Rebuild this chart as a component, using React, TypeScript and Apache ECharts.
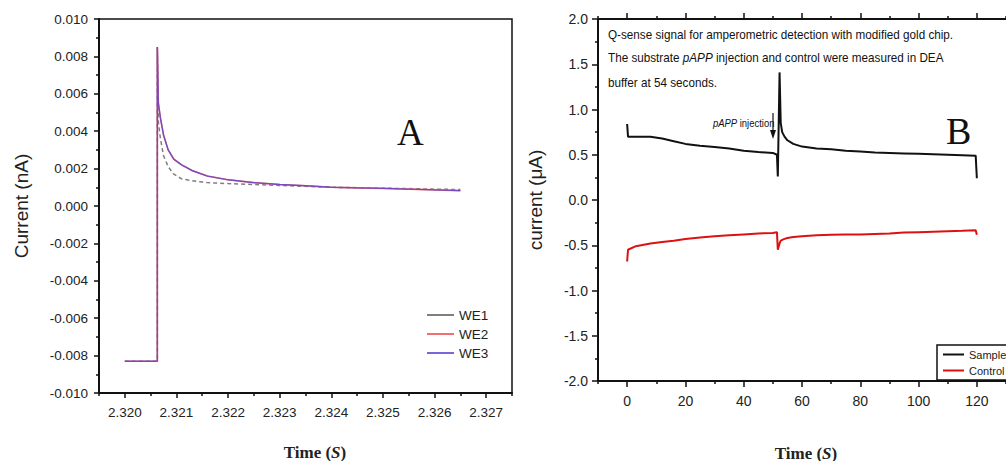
import React, { useEffect, useRef } from 'react';
import * as echarts from 'echarts';

// ---------- Panel A data ----------
const A_TIME = [2.32, 2.32063, 2.32063, 2.32065, 2.32069, 2.32075, 2.32084, 2.32095, 2.3211, 2.3213, 2.3216, 2.322, 2.3225, 2.323, 2.3235, 2.324, 2.3245, 2.325, 2.3255, 2.326, 2.3265];
const A_WE1 = [-0.0083, -0.0083, 0.0085, 0.0045, 0.0036, 0.0027, 0.0021, 0.0017, 0.00145, 0.00135, 0.00125, 0.0012, 0.00115, 0.0011, 0.00105, 0.001, 0.00098, 0.00095, 0.00093, 0.0009, 0.00088];
const A_WE2 = [-0.0083, -0.0083, 0.0085, 0.0055, 0.0047, 0.0038, 0.003, 0.0025, 0.0022, 0.0019, 0.0016, 0.0014, 0.00125, 0.00115, 0.00108, 0.001, 0.00097, 0.00094, 0.0009, 0.00086, 0.00082];
const A_WE3 = [-0.0083, -0.0083, 0.0085, 0.0055, 0.0047, 0.0038, 0.003, 0.0025, 0.0022, 0.0019, 0.0016, 0.0014, 0.00125, 0.00115, 0.00108, 0.001, 0.00097, 0.00094, 0.0009, 0.00086, 0.00082];
const A_X_TICKS = [2.32, 2.321, 2.322, 2.323, 2.324, 2.325, 2.326, 2.327];
const A_X_MINOR = [2.3195, 2.3205, 2.3215, 2.3225, 2.3235, 2.3245, 2.3255, 2.3265, 2.3275];

// ---------- Panel B data ----------
const B_TIME = [0, 0.3, 3, 8, 12, 16, 20, 25, 30, 35, 40, 45, 50, 51.4, 51.7, 52.3, 52.7, 53.2, 54, 55, 57, 60, 65, 70, 75, 80, 85, 90, 95, 100, 105, 110, 115, 119.6, 120];
const B_SAMPLE = [0.84, 0.7, 0.7, 0.7, 0.68, 0.65, 0.62, 0.6, 0.585, 0.57, 0.545, 0.53, 0.52, 0.5, 0.26, 1.41, 0.85, 0.75, 0.7, 0.66, 0.62, 0.59, 0.57, 0.56, 0.545, 0.535, 0.525, 0.52, 0.515, 0.51, 0.505, 0.5, 0.495, 0.49, 0.24];
const B_CONTROL = [-0.68, -0.55, -0.51, -0.48, -0.465, -0.45, -0.43, -0.415, -0.4, -0.39, -0.38, -0.37, -0.365, -0.355, -0.55, -0.48, -0.45, -0.44, -0.43, -0.42, -0.41, -0.4, -0.39, -0.385, -0.38, -0.38, -0.375, -0.37, -0.36, -0.355, -0.35, -0.345, -0.34, -0.335, -0.385];
const B_X_TICKS = [0, 20, 40, 60, 80, 100, 120];
const B_X_MINOR = [-10, 10, 30, 50, 70, 90, 110, 130];

const zip = (xs: number[], ys: number[]) => xs.map((x, i) => [x, ys[i]]);

const SANS = "'Liberation Sans', Arial, sans-serif";
const SERIF = "'Liberation Serif', 'Times New Roman', serif";
const INK = '#111';

export default function App() {
  const ref = useRef<HTMLDivElement>(null);
  useEffect(() => {
    if (!ref.current) return;
    const chart = echarts.init(ref.current, undefined, { renderer: 'svg' });
    const axisLine = { onZero: false, lineStyle: { color: INK, width: 2 } };
    const noLine = { show: false, onZero: false };
    const hiddenLabel = { show: false };
    const noSplit = { show: false };
    const tickStyle = { color: INK, width: 1.5 };
    const timeTitle = (x: number, y: number) => ({
      type: 'text',
      x,
      y,
      style: {
        text: '{a|Time (}{b|S}{a|)}',
        align: 'center',
        verticalAlign: 'middle',
        rich: {
          a: { fontFamily: SERIF, fontSize: 17, fontWeight: 'bold', fill: '#222' },
          b: { fontFamily: SERIF, fontSize: 17, fontWeight: 'bold', fontStyle: 'italic', fill: '#222' },
        },
      },
    });
    const note = (x: number, y: number, text: string, size: number) => ({
      type: 'text',
      x,
      y,
      scaleX: 0.9,
      style: {
        text,
        verticalAlign: 'middle',
        rich: {
          a: { fontFamily: SANS, fontSize: size, fill: '#111' },
          b: { fontFamily: SANS, fontSize: size, fontStyle: 'italic', fill: '#111' },
        },
      },
    });
    chart.setOption({
      animation: false,
      backgroundColor: '#fff',
      grid: [
        { left: 99, top: 19, width: 413, height: 374, show: true, borderColor: INK, borderWidth: 1.5 },
        { left: 598, top: 19, width: 415, height: 362 },
      ],
      xAxis: [
        {
          gridIndex: 0, type: 'value', min: 2.3195, max: 2.3275, position: 'bottom',
          axisLine,
          axisTick: { customValues: A_X_TICKS, length: 5, lineStyle: tickStyle },
          axisLabel: { customValues: A_X_TICKS, formatter: (v: number) => v.toFixed(3), fontSize: 13.5, color: '#222', margin: 12, fontFamily: SANS },
          splitLine: noSplit,
        },
        {
          gridIndex: 0, type: 'value', min: 2.3195, max: 2.3275, position: 'bottom',
          axisLine: noLine,
          axisTick: { customValues: A_X_MINOR, length: 3, lineStyle: tickStyle },
          axisLabel: hiddenLabel, splitLine: noSplit,
        },
        {
          gridIndex: 1, type: 'value', min: -10, max: 130, position: 'bottom',
          axisLine,
          axisTick: { customValues: B_X_TICKS, length: 6, lineStyle: tickStyle },
          axisLabel: { customValues: B_X_TICKS, fontSize: 14, color: '#222', margin: 13, fontFamily: SANS },
          splitLine: noSplit,
        },
        {
          gridIndex: 1, type: 'value', min: -10, max: 130, position: 'bottom',
          axisLine: noLine,
          axisTick: { customValues: B_X_MINOR, length: 3, lineStyle: tickStyle },
          axisLabel: hiddenLabel, splitLine: noSplit,
        },
        {
          gridIndex: 1, type: 'value', min: -10, max: 130, position: 'top',
          axisLine,
          axisTick: { customValues: B_X_TICKS, length: 6, lineStyle: tickStyle },
          axisLabel: hiddenLabel, splitLine: noSplit,
        },
        {
          gridIndex: 1, type: 'value', min: -10, max: 130, position: 'top',
          axisLine: noLine,
          axisTick: { customValues: B_X_MINOR, length: 3, lineStyle: tickStyle },
          axisLabel: hiddenLabel, splitLine: noSplit,
        },
      ],
      yAxis: [
        {
          gridIndex: 0, type: 'value', min: -0.01, max: 0.01, interval: 0.002,
          axisLine,
          axisTick: { length: 5, lineStyle: tickStyle },
          minorTick: { show: true, splitNumber: 2, length: 3, lineStyle: tickStyle },
          axisLabel: { formatter: (v: number) => v.toFixed(3), fontSize: 13.5, color: '#222', margin: 11, fontFamily: SANS },
          splitLine: noSplit,
          name: 'Current (nA)', nameLocation: 'middle', nameRotate: 90, nameGap: 68,
          nameTextStyle: { fontSize: 19, color: '#222', fontFamily: SANS },
        },
        {
          gridIndex: 1, type: 'value', min: -2, max: 2, interval: 0.5,
          axisLine,
          axisTick: { length: 6, lineStyle: tickStyle },
          minorTick: { show: true, splitNumber: 2, length: 3, lineStyle: tickStyle },
          axisLabel: { formatter: (v: number) => v.toFixed(1), fontSize: 14, color: '#222', margin: 10, fontFamily: SANS },
          splitLine: noSplit,
          name: 'current (μA)', nameLocation: 'middle', nameRotate: 90, nameGap: 53,
          nameTextStyle: { fontSize: 19, color: '#222', fontFamily: SANS },
        },
      ],
      legend: [
        {
          data: ['WE1', 'WE2', 'WE3'], orient: 'vertical', left: 421, top: 303,
          itemWidth: 27, itemHeight: 14, itemGap: 5, selectedMode: false,
          lineStyle: { type: 'solid' },
          itemStyle: { opacity: 0 },
          textStyle: { fontSize: 13.5, color: '#222', fontFamily: SANS },
        },
        {
          data: ['Sample', 'Control'], orient: 'vertical', left: 937, top: 345,
          itemWidth: 21, itemHeight: 10, itemGap: 5, selectedMode: false,
          padding: [4, 12, 4, 5], borderColor: INK, borderWidth: 1.5,
          itemStyle: { opacity: 0 },
          textStyle: { fontSize: 11, color: '#222', fontFamily: SANS },
        },
      ],
      series: [
        {
          name: 'WE1', type: 'line', xAxisIndex: 0, yAxisIndex: 0, data: zip(A_TIME, A_WE1),
          symbol: 'none', color: '#7f7f7f', lineStyle: { color: '#7f7f7f', width: 1.5, type: [4, 3] },
        },
        {
          name: 'WE2', type: 'line', xAxisIndex: 0, yAxisIndex: 0, data: zip(A_TIME, A_WE2),
          symbol: 'none', color: '#f07070', lineStyle: { color: '#f07070', width: 1.6 },
        },
        {
          name: 'WE3', type: 'line', xAxisIndex: 0, yAxisIndex: 0, data: zip(A_TIME, A_WE3),
          symbol: 'none', color: '#6a5ad8', lineStyle: { color: '#5a3fcf', width: 1.4, opacity: 0.8 },
        },
        {
          name: 'Sample', type: 'line', xAxisIndex: 2, yAxisIndex: 1, data: zip(B_TIME, B_SAMPLE),
          symbol: 'none', color: '#111', lineStyle: { color: '#111', width: 2 },
        },
        {
          name: 'Control', type: 'line', xAxisIndex: 2, yAxisIndex: 1, data: zip(B_TIME, B_CONTROL),
          symbol: 'none', color: '#dd1111', lineStyle: { color: '#dd1111', width: 2 },
        },
      ],
      graphic: [
        { type: 'text', x: 397, y: 132, style: { text: 'A', fontFamily: SERIF, fontSize: 37, fill: '#111', verticalAlign: 'middle' } },
        { type: 'text', x: 946, y: 131, style: { text: 'B', fontFamily: SERIF, fontSize: 38, fill: '#111', verticalAlign: 'middle' } },
        timeTitle(315, 452),
        timeTitle(806, 453),
        note(608, 35, '{a|Q-sense signal for amperometric detection with modified gold chip.}', 13),
        note(608, 58, '{a|The substrate }{b|pAPP}{a| injection and control were measured in DEA}', 13),
        note(608, 83, '{a|buffer at 54 seconds.}', 13),
        note(713, 123, '{b|pAPP}{a| injection}', 10.5),
        { type: 'line', shape: { x1: 773, y1: 113, x2: 773, y2: 133 }, style: { stroke: '#111', lineWidth: 1.2 } },
        { type: 'polygon', shape: { points: [[770, 130], [776, 130], [773, 139]] }, style: { fill: '#111' } },
      ],
    });
    return () => chart.dispose();
  }, []);
  return (
    <div
      ref={ref}
      style={{ position: 'fixed', left: 0, top: 0, width: 1006, height: 461, background: '#fff' }}
    />
  );
}
